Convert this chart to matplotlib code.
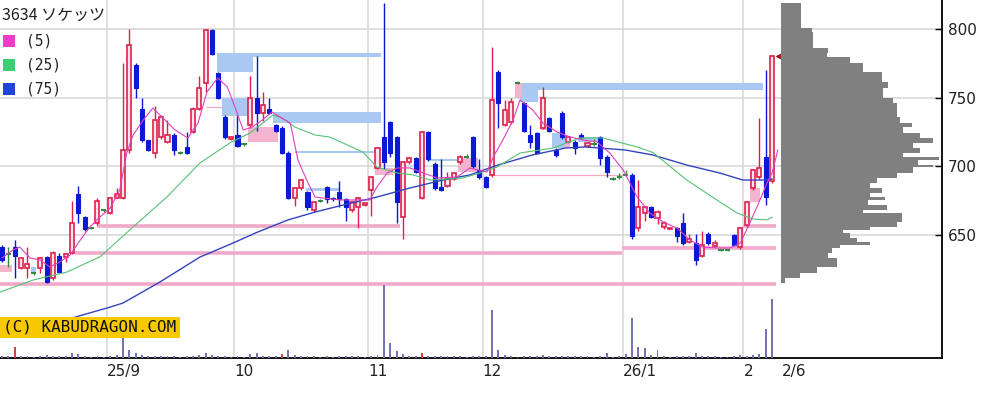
import matplotlib
matplotlib.use('Agg')
import matplotlib.pyplot as plt
from matplotlib.patches import Rectangle

## ---- daily candles (trading days, Aug 2025 .. 2026/2/6) ----
opens = [641, 636, 641, 626, 626, 622, 626, 634, 619, 635, 634, 637, 680, 663, 655, 659, 668, 666, 677, 677,
         712, 774, 742, 719, 710, 721, 718, 723, 710, 714, 725, 742, 761, 799, 768, 736, 720, 723, 716, 730,
         750, 739, 742, 730, 728, 710, 677, 684, 681, 668, 675, 685, 677, 681, 676, 668, 670, 672, 683, 699,
         721, 732, 721, 663, 703, 706, 677, 725, 702, 685, 686, 691, 703, 707, 721, 697, 692, 694, 769, 730,
         732, 761, 746, 723, 724, 728, 735, 712, 739, 718, 718, 723, 715, 716, 721, 707, 691, 692, 694, 694,
         655, 666, 670, 662, 656, 654, 655, 659, 645, 644, 635, 651, 642, 639, 639, 650, 641, 657, 684, 692,
         707, 689]
highs = [643, 641, 646, 634, 641, 623, 634, 635, 638, 637, 637, 675, 686, 664, 656, 677, 669, 678, 684, 775,
         800, 775, 750, 719, 744, 737, 734, 724, 711, 725, 743, 766, 800, 800, 769, 737, 722, 737, 717, 766,
         780, 754, 750, 731, 729, 711, 685, 691, 682, 675, 676, 686, 678, 689, 677, 675, 678, 673, 693, 714,
         819, 733, 722, 704, 707, 707, 726, 726, 703, 705, 696, 696, 708, 709, 722, 705, 693, 787, 770, 748,
         750, 762, 747, 730, 725, 758, 736, 713, 740, 722, 719, 724, 718, 720, 722, 708, 692, 695, 697, 695,
         690, 671, 671, 668, 660, 655, 656, 666, 651, 651, 653, 652, 646, 640, 640, 651, 656, 675, 698, 735,
         770, 781]
lows = [630, 627, 619, 625, 619, 621, 622, 615, 617, 622, 630, 636, 659, 653, 654, 657, 667, 665, 677, 676,
        710, 750, 718, 711, 706, 720, 717, 708, 709, 709, 724, 741, 754, 781, 749, 720, 719, 714, 715, 728,
        726, 733, 738, 725, 709, 676, 671, 683, 668, 667, 674, 673, 675, 670, 660, 667, 655, 671, 664, 698,
        698, 707, 659, 647, 702, 695, 676, 704, 683, 682, 685, 690, 702, 706, 699, 691, 684, 692, 728, 729,
        731, 760, 725, 713, 709, 727, 725, 707, 720, 717, 709, 720, 714, 715, 701, 692, 690, 691, 693, 647,
        653, 660, 662, 658, 654, 654, 645, 643, 644, 628, 634, 643, 641, 638, 638, 642, 640, 656, 683, 691,
        672, 688]
closes = [632, 636, 635, 633, 629, 622, 633, 616, 637, 623, 636, 659, 666, 654, 655, 675, 668, 677, 680, 712,
          788, 757, 719, 712, 734, 736, 723, 712, 710, 710, 742, 757, 799, 782, 750, 721, 721, 715, 716, 750,
          739, 745, 739, 726, 710, 677, 684, 690, 670, 674, 675, 676, 676, 676, 670, 674, 677, 673, 692, 713,
          703, 710, 674, 703, 706, 696, 725, 705, 684, 683, 691, 695, 707, 707, 700, 692, 685, 748, 746, 741,
          747, 761, 726, 718, 710, 750, 726, 708, 721, 721, 713, 721, 717, 716, 706, 696, 691, 692, 694, 649,
          670, 670, 663, 667, 659, 655, 649, 644, 647, 632, 643, 644, 644, 639, 639, 643, 655, 674, 697, 699,
          678, 780]
volumes = [2, 2, 11, 2, 2, 1, 2, 3, 2, 2, 2, 5, 4, 2, 1, 2, 1, 2, 3, 22,
           8, 5, 3, 2, 2, 2, 2, 2, 1, 2, 2, 3, 5, 3, 2, 2, 1, 2, 1, 4,
           5, 2, 2, 2, 4, 8, 3, 2, 2, 2, 1, 2, 1, 2, 2, 2, 2, 1, 2, 3,
           73, 15, 7, 4, 2, 2, 5, 2, 2, 2, 2, 2, 2, 1, 2, 2, 2, 48, 8, 3,
           2, 1, 2, 2, 2, 3, 2, 2, 2, 2, 2, 2, 2, 1, 2, 5, 1, 2, 4, 40,
           11, 10, 3, 8, 2, 1, 2, 2, 2, 5, 2, 2, 2, 1, 1, 2, 3, 2, 3, 4,
           29, 59]
vol_red_days = [2, 44, 66]

## ---- moving averages (day index, price) ----
ma5_day = [0, 1.7, 2.8, 4.4, 6.0, 7.5, 9.1, 10.7, 12.3, 13.8, 15.4, 17.0, 18.5, 19.6, 20.6, 22.2, 23.7, 25.6,
           27.2, 29.2, 30.8, 32.2, 33.9, 35.4, 36.6, 37.9, 39.3, 40.9, 42.4, 43.7, 45.3, 46.5, 48.1, 49.2, 50.4,
           53.1, 56.3, 57.8, 58.9, 60.5, 62.1, 64.1, 66.2, 68.4, 71.5, 73.5, 76.2, 77.2, 78.7, 80.3, 81.4, 83.4,
           85.0, 87.2, 89.3, 91.3, 93.5, 95.5, 97.6, 99.8, 101.8, 103.9, 106.1, 108.1, 110.1, 112.4, 114.4,
           116.0, 117.5, 119.1, 120.2, 121.0, 121.9]
ma5_val = [633.2, 639.0, 641.2, 633.2, 631.8, 626.7, 630.3, 635.4, 646.3, 655.8, 663.1, 669.6, 682.7, 709.7,
           722.8, 733.7, 742.5, 733.7, 726.4, 720.6, 731.5, 754.1, 764.3, 757.8, 743.2, 726.4, 728.6, 733.7,
           739.5, 735.9, 731.5, 704.6, 687.8, 677.6, 676.9, 675.5, 675.5, 675.5, 684.9, 695.1, 698.8, 698.8,
           695.1, 691.5, 692.2, 698.8, 695.8, 706.8, 719.2, 733.7, 748.3, 741.0, 731.5, 725.0, 721.3, 719.2,
           717.7, 709.7, 697.3, 677.6, 666.0, 659.4, 654.9, 646.3, 641.2, 640.5, 640.5, 644.1, 658.7, 675.5,
           687.8, 695.1, 711.9]
ma25_day = [-0.3, 4.9, 10.2, 15.4, 20.6, 25.9, 31.1, 35.8, 39.0, 42.6, 44.0, 46.0, 49.2, 51.5, 56.7, 58.9,
            62.1, 64.6, 67.3, 72.4, 75.1, 77.8, 81.4, 86.6, 90.8, 94.4, 99.8, 102.3, 107.6, 112.8, 115.5,
            118.0, 120.2, 121.0]
ma25_val = [608.4, 617.2, 623.0, 634.1, 655.8, 677.6, 702.4, 717.0, 724.3, 737.4, 735.2, 728.6, 722.8, 721.3,
            710.4, 699.5, 695.1, 693.7, 690.0, 691.5, 695.1, 699.5, 709.7, 713.3, 720.6, 720.6, 714.1, 710.0,
            690.0, 674.0, 666.0, 661.6, 661.0, 663.0]
ma75_day = [11.0, 17.0, 19.0, 24.8, 31.1, 36.3, 39.8, 44.9, 49.2, 53.6, 58.9, 64.1, 69.3, 73.5, 77.9, 83.3,
            88.5, 91.6, 97.9, 102.3, 107.6, 112.8, 116.4, 119.6, 121.0]
ma75_val = [589.5, 597.5, 600.4, 615.7, 633.9, 644.1, 651.4, 660.9, 666.7, 671.8, 677.6, 684.2, 690.0, 693.7,
            700.9, 708.2, 713.3, 714.1, 711.9, 708.2, 700.9, 695.1, 690.0, 690.0, 690.7]

## ---- unfilled gaps (windows) ----
blue_gap_from = [4.6, 33.8, 39.4, 34.6, 42.6, 47.8, 46.0, 66.8, 81.4, 84.2, 86.4, 90.5]
blue_gap_to = [5.3, 39.4, 59.6, 39.0, 59.6, 53.1, 59.4, 72.0, 84.2, 119.6, 88.5, 93.7]
blue_gap_low = [622.3, 768.7, 779.6, 736.5, 731.5, 682.0, 709.8, 704.0, 746.8, 755.6, 713.3, 717.7]
blue_gap_high = [626.7, 782.5, 782.5, 750.0, 739.5, 684.0, 711.0, 705.3, 760.7, 760.7, 724.3, 721.3]
pink_gap_from = [-0.3, 38.7, 58.6, 71.6, 80.6, 84.5, 88.5, 117.5]
pink_gap_to = [1.6, 43.4, 61.4, 74.8, 81.7, 86.4, 89.3, 119.1]
pink_gap_low = [623.0, 717.7, 693.7, 696.0, 750.0, 726.4, 713.3, 674.0]
pink_gap_high = [628.0, 728.6, 698.8, 706.0, 760.7, 731.5, 717.7, 684.0]

## ---- support lines (price, from day, to day) ----
band_price = [614.5, 656.5, 656.5, 637.0, 640.3]
band_from = [-0.3, 15.0, 116.4, 11.5, 97.4]
band_to = [121.6, 62.5, 121.6, 97.4, 121.6]
thin_price = [693.7, 743.0]
thin_from = [77.0, 32.0]
thin_to = [98.2, 34.7]

## ---- volume by price profile ----
prof_top = [818.9, 800.7, 797.8, 786.2, 782.5, 779.6, 775.2, 768.7, 761.4, 757.0, 749.7, 746.1, 735.9, 731.5,
            728.6, 724.3, 720.6, 717.0, 713.3, 709.7, 706.8, 704.6, 700.9, 699.5, 695.1, 691.5, 687.8, 684.2,
            680.6, 677.6, 675.5, 671.8, 668.2, 666.0, 659.4, 655.8, 653.6, 651.4, 647.8, 644.9, 642.7, 640.5,
            636.9, 633.2, 626.7, 622.3, 618.6]
prof_low = [800.7, 797.8, 786.2, 782.5, 779.6, 775.2, 768.7, 761.4, 757.0, 749.7, 746.1, 735.9, 731.5, 728.6,
            724.3, 720.6, 717.0, 713.3, 709.7, 706.8, 704.6, 700.9, 699.5, 695.1, 691.5, 687.8, 684.2, 680.6,
            677.6, 675.5, 671.8, 668.2, 666.0, 659.4, 655.8, 653.6, 651.4, 647.8, 644.9, 642.7, 640.5, 636.9,
            633.2, 626.7, 622.3, 618.6, 615.0]
prof_vol = [20, 31, 32, 47, 46, 69, 82, 101, 107, 102, 112, 116, 119, 131, 122, 139, 152, 132, 139, 122, 158,
            137, 152, 132, 116, 96, 89, 101, 89, 104, 87, 106, 82, 121, 116, 89, 62, 69, 76, 89, 59, 51, 47,
            56, 36, 19, 4]

month_pos = [16.5, 36.5, 57.5, 75.5, 97.5, 116.5]
month_labels = ['25/9', '10', '11', '12', '26/1', '2']
last_pos, last_label = 122.6, '2/6'
price_ticks = [650, 700, 750, 800]

RED, BLUE, GREEN = '#e0204c', '#0a18d8', '#2e8b3e'
W = 0.64

fig = plt.figure(figsize=(10.08, 3.96), dpi=100)
ax = fig.add_axes([0, 1 - 358 / 396, 942 / 1008, 358 / 396])
ax_vol = ax.twinx()
ax_prof = ax.twiny()

ax.set_xlim(-0.314, 147.7)
ax.set_ylim(560.4, 821.1)

## grid
for p in price_ticks:
    ax.axhline(p, color='#d6d6d6', lw=1.1, zorder=0)
for m in month_pos:
    ax.axvline(m, color='#d6d6d6', lw=1.1, zorder=0)

## support bands and thin lines
ax.hlines(band_price, band_from, band_to, color='#f2a9c9', lw=2.6, zorder=1)
ax.hlines(thin_price, thin_from, thin_to, color='#f2a9c9', lw=0.9, zorder=1)

## gap windows
for x0, x1, lo, hi in zip(blue_gap_from, blue_gap_to, blue_gap_low, blue_gap_high):
    ax.add_patch(Rectangle((x0, lo), x1 - x0, hi - lo, fc='#aac9f2', ec='none', zorder=1.5))
for x0, x1, lo, hi in zip(pink_gap_from, pink_gap_to, pink_gap_low, pink_gap_high):
    ax.add_patch(Rectangle((x0, lo), x1 - x0, hi - lo, fc='#f4b4cd', ec='none', zorder=1.5))

## candles
for i, (o, h, l, c) in enumerate(zip(opens, highs, lows, closes)):
    if c > o:
        ax.vlines(i, l, h, color=RED, lw=1.0, zorder=3)
        ax.add_patch(Rectangle((i - W / 2, o), W, c - o, fc='#fde6ee', ec=RED, lw=1.2, zorder=3.2))
    elif c < o:
        ax.vlines(i, l, h, color=BLUE, lw=1.0, zorder=3)
        ax.add_patch(Rectangle((i - W / 2, c), W, o - c, fc=BLUE, ec=BLUE, lw=0.8, zorder=3.2))
    else:
        if h > l:
            ax.vlines(i, l, h, color=GREEN, lw=1.0, zorder=3)
        ax.hlines(c, i - W / 2 - 0.1, i + W / 2 + 0.1, color=GREEN, lw=1.4, zorder=3.2)

## moving averages
ax.plot(ma75_day, ma75_val, color='#3344bb', lw=1.0, zorder=4)
ax.plot(ma25_day, ma25_val, color='#55c276', lw=0.8, zorder=4)
ax.plot(ma5_day, ma5_val, color='#e040c0', lw=0.8, zorder=4)

## last price marker
ax.plot(last_pos - 0.2, closes[-1], marker='<', ms=7, mfc='#dd1111', mec='#771111', mew=0.8, zorder=6)

## axes styling
for s in ['top', 'left']:
    ax.spines[s].set_visible(False)
ax.spines['right'].set_linewidth(1.3)
ax.spines['bottom'].set_linewidth(1.3)
ax.yaxis.tick_right()
ax.set_yticks(price_ticks)
ax.tick_params(axis='y', direction='in', length=5, width=1, pad=4, labelsize=11, labelcolor='#222222')
ax.xaxis.tick_bottom()
ax.set_xticks(month_pos + [last_pos])
ax.set_xticklabels(month_labels + [last_label], ha='left')
ax.tick_params(axis='x', length=0, pad=4, labelsize=11, labelcolor='#222222')

## volume bars
ax_vol.set_ylim(0, 358)
vol_colors = ['#cc4444' if i in vol_red_days else '#7474b4' for i in range(len(volumes))]
ax_vol.bar(range(len(volumes)), volumes, width=0.3, color=vol_colors, zorder=2)
ax_vol.axis('off')

## volume-by-price profile
ax_prof.set_xlim(-781, 161)
ax_prof.barh(prof_low, prof_vol, height=[t - b for t, b in zip(prof_top, prof_low)],
             left=0, align='edge', color='#808080', lw=0)
ax_prof.axis('off')

## legend block
def px(x, y):
    return x / 1008, 1 - y / 396

fig.add_artist(Rectangle(px(0, 96), 70 / 1008, 65 / 396, transform=fig.transFigure,
                         fc='white', ec='none', zorder=1))
fig.text(*px(2, 15), '3634 ソケッツ', fontsize=11.5, va='center', ha='left',
         family=['Noto Sans CJK JP', 'DejaVu Sans'], color='#222222', zorder=3)
for y, col, lab in zip([41, 65, 89], ['#f03cc8', '#3ccf78', '#2244dd'], ['(5)', '(25)', '(75)']):
    fig.add_artist(Rectangle(px(3, y + 6), 12 / 1008, 12 / 396, transform=fig.transFigure,
                             fc=col, ec='none', zorder=2))
    fig.text(*px(26, y), lab, fontsize=10.5, va='center', ha='left',
             family='DejaVu Sans Mono', color='#222222', zorder=3)

fig.add_artist(Rectangle(px(0, 338), 180 / 1008, 21 / 396, transform=fig.transFigure,
                         fc='#f8c800', ec='none', zorder=2))
fig.text(*px(3, 327.5), '(C) KABUDRAGON.COM', fontsize=11.5, va='center', ha='left',
         family='DejaVu Sans Mono', color='#111111', zorder=3)

fig.savefig('out.png', dpi=100)
